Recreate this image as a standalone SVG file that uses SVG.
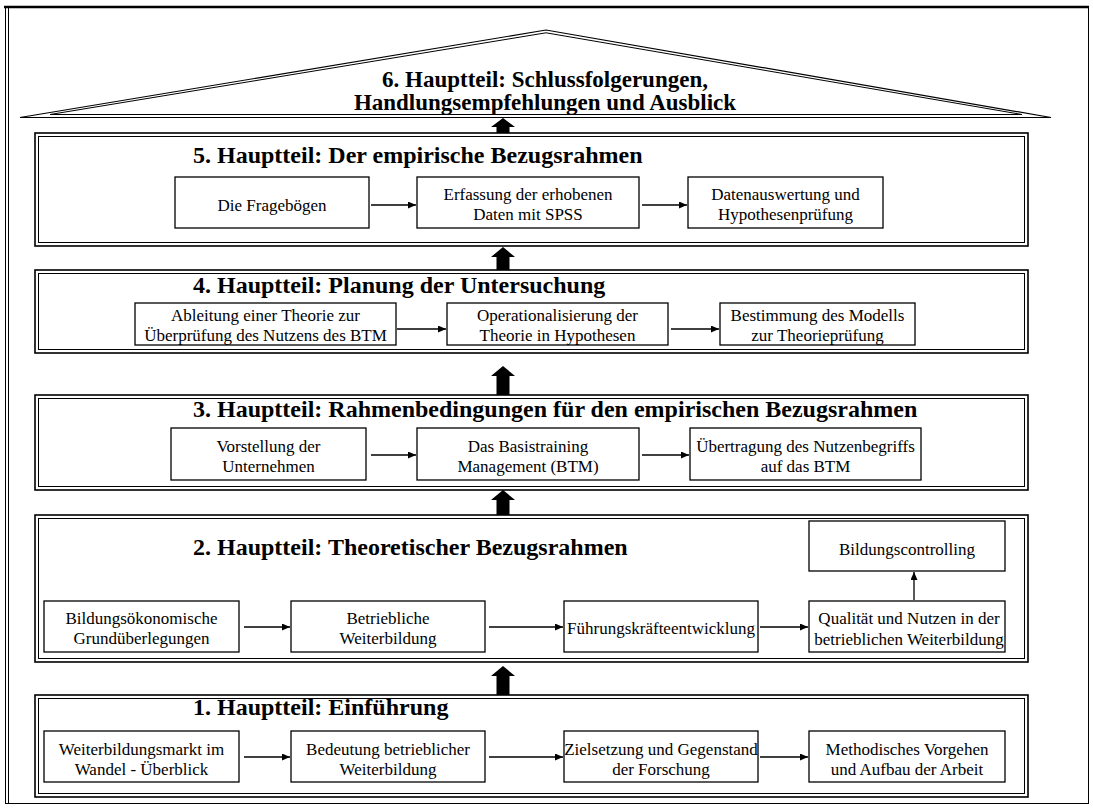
<svg xmlns="http://www.w3.org/2000/svg" width="1093" height="810" viewBox="0 0 1093 810">
  <defs>
    <style>
      .t { font-family: "Liberation Serif", "Times New Roman", serif; font-size: 17px; fill: #000; text-anchor: middle; }
      .h { font-family: "Liberation Serif", "Times New Roman", serif; font-size: 24px; font-weight: bold; fill: #000; }
      .roof { font-size: 23px; text-anchor: middle; }
      .box { fill: #fff; stroke: #000; stroke-width: 1.3; }
      .outer { fill: #fff; stroke: #000; stroke-width: 1.6; }
      .inner { fill: none; stroke: #000; stroke-width: 1; }
      .conn line { stroke: #000; stroke-width: 1.3; marker-end: url(#arr); }
      .big { fill: #000; }
      .frame { fill: none; stroke: #000; }
    </style>
    <marker id="arr" markerUnits="userSpaceOnUse" markerWidth="9" markerHeight="7" refX="8" refY="3.5" orient="auto">
      <path d="M0,0 L8,3.5 L0,7 z" fill="#000"/>
    </marker>
  </defs>

  <rect width="1093" height="810" fill="#fff"/>

  <!-- page frame -->
  <g id="frame" class="frame">
    <line x1="4" y1="7" x2="1089" y2="7" stroke-width="2.5"/>
    <line x1="5.5" y1="7" x2="5.5" y2="803.5" stroke-width="1"/>
    <line x1="8.5" y1="8" x2="8.5" y2="803.5" stroke-width="1"/>
    <line x1="1088.5" y1="7" x2="1088.5" y2="803.5" stroke-width="1"/>
    <line x1="5" y1="803.5" x2="1089" y2="803.5" stroke-width="1"/>
  </g>

  <!-- 6: roof -->
  <g id="part6">
    <polygon points="20,117.5 546,30 1051,117.5" fill="#fff" stroke="#000" stroke-width="1.2"/>
    <polygon points="50,114.5 546,32.8 1022,114.5" fill="none" stroke="#000" stroke-width="1"/>
    <text class="h roof" x="545" y="87">6. Hauptteil: Schlussfolgerungen,</text>
    <text class="h roof" x="545" y="110">Handlungsempfehlungen und Ausblick</text>
  </g>

  <!-- 5 -->
  <g id="part5">
    <rect class="outer" x="35" y="133" width="993" height="113"/>
    <rect class="inner" x="38.5" y="136.5" width="986" height="106"/>
    <text class="h" x="193" y="163">5. Hauptteil: Der empirische Bezugsrahmen</text>
  </g>
  <g id="n5a"><rect class="box" x="175" y="177" width="194" height="51"/><text class="t" x="272" y="211">Die Fragebögen</text></g>
  <g id="n5b"><rect class="box" x="417" y="177" width="222" height="51"/><text class="t" x="528" y="200">Erfassung der erhobenen</text><text class="t" x="528" y="220">Daten mit SPSS</text></g>
  <g id="n5c"><rect class="box" x="688" y="177" width="195" height="51"/><text class="t" x="785.5" y="200">Datenauswertung und</text><text class="t" x="785.5" y="220">Hypothesenprüfung</text></g>

  <!-- 4 -->
  <g id="part4">
    <rect class="outer" x="35" y="270" width="993" height="83"/>
    <rect class="inner" x="38.5" y="273.5" width="986" height="76"/>
    <text class="h" x="193" y="293">4. Hauptteil: Planung der Untersuchung</text>
  </g>
  <g id="n4a"><rect class="box" x="135" y="303" width="261" height="42"/><text class="t" x="265.5" y="321">Ableitung einer Theorie  zur</text><text class="t" x="265.5" y="341">Überprüfung des Nutzens des BTM</text></g>
  <g id="n4b"><rect class="box" x="447" y="303" width="221" height="42"/><text class="t" x="557.5" y="321">Operationalisierung der</text><text class="t" x="557.5" y="341">Theorie in Hypothesen</text></g>
  <g id="n4c"><rect class="box" x="720" y="303" width="195" height="42"/><text class="t" x="817.5" y="321">Bestimmung des Modells</text><text class="t" x="817.5" y="341">zur Theorieprüfung</text></g>

  <!-- 3 -->
  <g id="part3">
    <rect class="outer" x="35" y="395" width="993" height="95"/>
    <rect class="inner" x="38.5" y="398.5" width="986" height="88"/>
    <text class="h" x="193" y="417">3. Hauptteil: Rahmenbedingungen für den empirischen Bezugsrahmen</text>
  </g>
  <g id="n3a"><rect class="box" x="171" y="428" width="195" height="52"/><text class="t" x="268.5" y="452">Vorstellung der</text><text class="t" x="268.5" y="472">Unternehmen</text></g>
  <g id="n3b"><rect class="box" x="417" y="428" width="222" height="52"/><text class="t" x="528" y="452">Das Basistraining</text><text class="t" x="528" y="472">Management (BTM)</text></g>
  <g id="n3c"><rect class="box" x="690" y="428" width="231" height="52"/><text class="t" x="805.5" y="452">Übertragung des Nutzenbegriffs</text><text class="t" x="805.5" y="472">auf das BTM</text></g>

  <!-- 2 -->
  <g id="part2">
    <rect class="outer" x="35" y="515" width="993" height="147"/>
    <rect class="inner" x="38.5" y="518.5" width="986" height="140"/>
    <text class="h" x="193" y="555">2. Hauptteil: Theoretischer Bezugsrahmen</text>
  </g>
  <g id="n2e"><rect class="box" x="809" y="521" width="196" height="50"/><text class="t" x="907" y="555">Bildungscontrolling</text></g>
  <g id="n2a"><rect class="box" x="44" y="601" width="195" height="51"/><text class="t" x="141.5" y="624">Bildungsökonomische</text><text class="t" x="141.5" y="644">Grundüberlegungen</text></g>
  <g id="n2b"><rect class="box" x="291" y="601" width="194" height="51"/><text class="t" x="388" y="624">Betriebliche</text><text class="t" x="388" y="644">Weiterbildung</text></g>
  <g id="n2c"><rect class="box" x="564" y="601" width="194" height="51"/><text class="t" x="661" y="634">Führungskräfteentwicklung</text></g>
  <g id="n2d"><rect class="box" x="809" y="601" width="196" height="51"/><text class="t" x="909" y="624">Qualität und Nutzen in der</text><text class="t" x="909" y="645">betrieblichen Weiterbildung</text></g>

  <!-- 1 -->
  <g id="part1">
    <rect class="outer" x="35" y="695" width="993" height="102"/>
    <rect class="inner" x="38.5" y="698.5" width="986" height="95"/>
    <text class="h" x="193" y="715">1. Hauptteil: Einführung</text>
  </g>
  <g id="n1a"><rect class="box" x="44" y="731" width="195" height="51"/><text class="t" x="141.5" y="755">Weiterbildungsmarkt im</text><text class="t" x="141.5" y="775">Wandel - Überblick</text></g>
  <g id="n1b"><rect class="box" x="291" y="731" width="194" height="51"/><text class="t" x="388" y="755">Bedeutung betrieblicher</text><text class="t" x="388" y="775">Weiterbildung</text></g>
  <g id="n1c"><rect class="box" x="564" y="731" width="194" height="51"/><text class="t" x="661" y="755">Zielsetzung und Gegenstand</text><text class="t" x="661" y="775">der Forschung</text></g>
  <g id="n1d"><rect class="box" x="809" y="731" width="196" height="51"/><text class="t" x="907" y="755">Methodisches Vorgehen</text><text class="t" x="907" y="775">und Aufbau der Arbeit</text></g>

  <!-- connectors -->
  <g id="connectors">
    <g class="conn">
      <line x1="371" y1="205" x2="416" y2="205"/>
      <line x1="642" y1="205" x2="687" y2="205"/>
      <line x1="397" y1="329" x2="446" y2="329"/>
      <line x1="671" y1="329" x2="719" y2="329"/>
      <line x1="371" y1="455" x2="416" y2="455"/>
      <line x1="642" y1="455" x2="689" y2="455"/>
      <line x1="244" y1="627" x2="290" y2="627"/>
      <line x1="489" y1="627" x2="563" y2="627"/>
      <line x1="760" y1="627" x2="808" y2="627"/>
      <line x1="914" y1="600" x2="914" y2="572"/>
      <line x1="244" y1="757" x2="290" y2="757"/>
      <line x1="489" y1="757" x2="563" y2="757"/>
      <line x1="760" y1="757" x2="808" y2="757"/>
    </g>
    <!-- block arrows between the parts -->
    <polygon class="big" points="496.5,133 496.5,127 491,127 503,118 515,127 509.5,127 509.5,133"/>
    <polygon class="big" points="496.5,270 496.5,257 491,257 503,247 515,257 509.5,257 509.5,270"/>
    <polygon class="big" points="496.5,395 496.5,376 491,376 503,366 515,376 509.5,376 509.5,395"/>
    <polygon class="big" points="496.5,515 496.5,500 491,500 503,490 515,500 509.5,500 509.5,515"/>
    <polygon class="big" points="496.5,695 496.5,676 491,676 503,666 515,676 509.5,676 509.5,695"/>
  </g>
</svg>
